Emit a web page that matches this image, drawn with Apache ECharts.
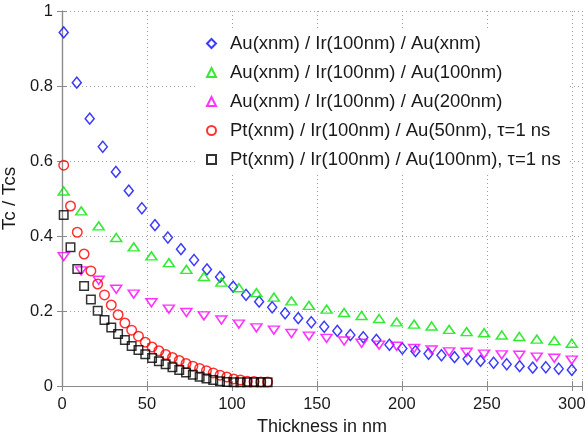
<!DOCTYPE html>
<html>
<head>
<meta charset="utf-8">
<script src="https://cdn.jsdelivr.net/npm/echarts@6/dist/echarts.min.js"></script>
<style>
html, body { margin: 0; padding: 0; background: #fff; }
#main { width: 588px; height: 438px; }
</style>
</head>
<body>
<div id="main"></div>
<script>
// thickness values (nm) for each data set
var xAuX = [1, 8.7, 16.3, 24, 31.7, 39.3, 47, 54.7, 62.3, 70, 77.7, 85.3, 93, 100.7, 108.3, 116, 123.7, 131.3, 139, 146.7,
    154.3, 162, 169.7, 177.3, 185, 192.7, 200.3, 208, 215.7, 223.3, 231, 238.7, 246.3, 254, 261.7, 269.3, 277, 284.7, 292.3, 300];
var xAu = [1, 11.3, 21.6, 31.9, 42.2, 52.6, 62.9, 73.2, 83.5, 93.8, 104.1, 114.4, 124.7, 135, 145.3,
    155.7, 166, 176.3, 186.6, 196.9, 207.2, 217.5, 227.8, 238.1, 248.4, 258.8, 269.1, 279.4, 289.7, 300];
var xPt = [1, 5, 9, 13, 17, 21, 25, 29, 33, 37, 41, 45, 49, 53, 57, 61, 65, 69, 73, 77, 81, 85, 89, 93, 97,
    101, 105, 109, 113, 117, 121];

// Tc / Tcs
var auX = [0.943, 0.809, 0.713, 0.638, 0.571, 0.521, 0.474, 0.429, 0.396, 0.365, 0.336, 0.311, 0.291, 0.265, 0.243,
    0.225, 0.210, 0.194, 0.181, 0.170, 0.158, 0.147, 0.136, 0.130, 0.123, 0.110, 0.100, 0.093, 0.086, 0.082,
    0.077, 0.072, 0.067, 0.062, 0.058, 0.053, 0.049, 0.050, 0.046, 0.043];
var au100 = [0.520, 0.467, 0.427, 0.396, 0.371, 0.347, 0.329, 0.311, 0.292, 0.277, 0.262, 0.249, 0.237, 0.227, 0.215,
    0.205, 0.196, 0.188, 0.180, 0.171, 0.165, 0.160, 0.151, 0.145, 0.142, 0.136, 0.132, 0.125, 0.121, 0.114];
var au200 = [0.345, 0.307, 0.282, 0.258, 0.245, 0.222, 0.205, 0.196, 0.187, 0.176, 0.165, 0.155, 0.149, 0.140, 0.133,
    0.127, 0.120, 0.114, 0.109, 0.106, 0.100, 0.096, 0.091, 0.090, 0.085, 0.083, 0.082, 0.077, 0.074, 0.069];
var pt50 = [0.589, 0.480, 0.410, 0.352, 0.307, 0.272, 0.243, 0.216, 0.190, 0.168, 0.149, 0.133, 0.117, 0.104, 0.094,
    0.084, 0.076, 0.068, 0.060, 0.053, 0.047, 0.041, 0.035, 0.029, 0.024, 0.019, 0.016, 0.013, 0.012, 0.011, 0.011];
var pt100 = [0.456, 0.370, 0.312, 0.267, 0.231, 0.201, 0.176, 0.156, 0.139, 0.123, 0.107, 0.096, 0.085, 0.075, 0.066,
    0.058, 0.050, 0.043, 0.036, 0.030, 0.025, 0.020, 0.016, 0.013, 0.011, 0.010, 0.010, 0.010, 0.010, 0.010, 0.010];

var names = ['Au(xnm) / Ir(100nm) / Au(xnm)',
    'Au(xnm) / Ir(100nm) / Au(100nm)',
    'Au(xnm) / Ir(100nm) / Au(200nm)',
    'Pt(xnm) / Ir(100nm) / Au(50nm), \u03c4=1 ns',
    'Pt(xnm) / Ir(100nm) / Au(100nm), \u03c4=1 ns'];
var xTicks = [0, 50, 100, 150, 200, 250, 300];

function pairs(xs, ys) {
    var out = [];
    for (var i = 0; i < ys.length; i++) out.push([xs[i], ys[i]]);
    return out;
}

var font = 'Liberation Sans, Arial, sans-serif';
var frame = '#8a8a8a';
var gridCol = '#a0a0a0';

function mk(name, data, symbol, size, color, rotate) {
    return {
        name: name,
        type: 'scatter',
        data: data,
        symbol: symbol,
        symbolSize: size,
        symbolRotate: rotate || 0,
        itemStyle: { color: 'transparent', borderColor: color, borderWidth: 1.5 },
        emphasis: { disabled: true }
    };
}

var myChart = echarts.init(document.getElementById('main'));

var option = {
    backgroundColor: '#fff',
    animation: false,
    grid: { left: 62, right: 6, top: 11, bottom: 52, containLabel: false, outerBoundsMode: 'none' },
    legend: {
        orient: 'vertical',
        left: 198,
        top: 28,
        padding: [6, 8],
        itemWidth: 9,
        itemHeight: 9,
        itemGap: 10,
        backgroundColor: '#fff',
        textStyle: { fontFamily: font, fontSize: 18.5, color: '#1a1a1a', lineHeight: 18.5, padding: [0, 0, 0, 9] },
        data: names
    },
    xAxis: [{
        type: 'value', min: 0, max: 306, interval: 50,
        name: 'Thickness in nm', nameLocation: 'middle', nameGap: 28,
        nameTextStyle: { fontFamily: font, fontSize: 18, color: '#1a1a1a' },
        axisLine: { lineStyle: { color: frame, width: 1.2 } },
        axisTick: { inside: true, length: 5, lineStyle: { color: frame } },
        axisLabel: {
            fontFamily: font, fontSize: 16.5, color: '#1a1a1a', margin: 10,
            formatter: function (v) { return xTicks.indexOf(v) >= 0 ? String(v) : ''; }
        },
        splitLine: { show: true, lineStyle: { color: gridCol, type: [1, 3], width: 1 } }
    }, {
        type: 'value', min: 0, max: 306, interval: 50, position: 'top',
        axisLine: { show: true, lineStyle: { color: frame, width: 1.2 } },
        axisTick: { show: true, inside: true, length: 5, lineStyle: { color: frame } },
        axisLabel: { show: false },
        splitLine: { show: false }
    }],
    yAxis: [{
        type: 'value', min: 0, max: 1, interval: 0.2,
        name: 'Tc / Tcs', nameLocation: 'middle', nameGap: 34,
        nameTextStyle: { fontFamily: font, fontSize: 19, color: '#1a1a1a' },
        axisLine: { show: true, lineStyle: { color: frame, width: 1.2 } },
        axisTick: { show: true, inside: true, length: 5, lineStyle: { color: frame } },
        axisLabel: { fontFamily: font, fontSize: 16.5, color: '#1a1a1a', margin: 9 },
        splitLine: { show: true, lineStyle: { color: gridCol, type: [1, 3], width: 1 } }
    }, {
        type: 'value', min: 0, max: 1, interval: 0.2, position: 'right',
        axisLine: { show: true, lineStyle: { color: frame, width: 1.2 } },
        axisTick: { show: true, inside: true, length: 5, lineStyle: { color: frame } },
        axisLabel: { show: false },
        splitLine: { show: false }
    }],
    series: [
        mk(names[0], pairs(xAuX, auX), 'diamond', [9, 11], '#0a0aff'),
        mk(names[1], pairs(xAu, au100), 'triangle', [11, 8], '#00e600'),
        mk(names[2], pairs(xAu, au200), 'triangle', [11, 8], '#ff00ff', 180),
        mk(names[3], pairs(xPt, pt50), 'circle', 9.5, '#ff0000'),
        mk(names[4], pairs(xPt, pt100), 'rect', 8.5, '#000000')
    ]
};

myChart.setOption(option);
</script>
</body>
</html>
